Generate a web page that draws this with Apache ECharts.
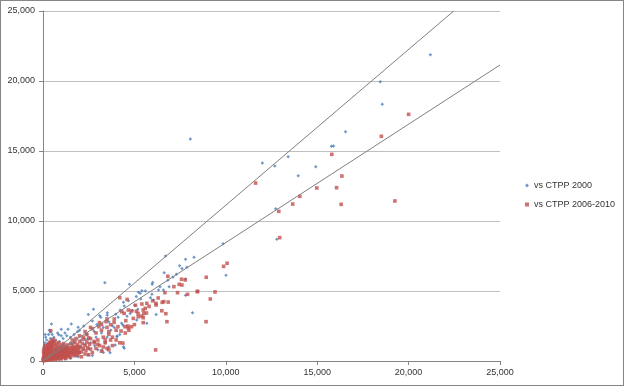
<!DOCTYPE html>
<html><head><meta charset="utf-8">
<script src="https://cdn.jsdelivr.net/npm/echarts@6/dist/echarts.min.js"></script>
<style>html,body{margin:0;padding:0;background:#fff}#c{width:624px;height:386px;box-sizing:border-box;border:1px solid #868686}</style>
</head><body><div id="c"></div>
<script>
// Axis ticks
const xTicks = [0, 5000, 10000, 15000, 20000, 25000];
const yTicks = [0, 5000, 10000, 15000, 20000, 25000];
const seriesNames = ['vs CTPP 2000', 'vs CTPP 2006-2010'];

// Series 1: vs CTPP 2000 (blue)
const ctpp2000 = [
[21190,21870],[18450,19950],[18560,18340],[16550,16380],[15780,15340],[15890,15360],[13410,14590],[12000,14140],[12680,13930],[14920,13880],[13960,13240],[12730,10880],[12790,8690],[8060,15860],
[9850,8380],[8260,7410],[10010,6120],[8180,3450],[6700,7500],[7800,7260],[7470,6810],[7870,6690],[6630,6310],[3380,5590],[4730,5480],[5970,5480],[7110,6000],[7800,5860],[6830,5760],[6320,5070],[6590,5070],
[5220,4910],[5410,5020],[5960,4760],[5880,4520],[4670,4310],[4400,4190],[5350,4430],[5020,3980],[7800,4690],[3980,3340],[3510,3260],[5190,3690],[3800,2520],[3710,2190],[3230,760],[4440,910],
[6050,4360],[6190,3330],[4220,3640],[4370,2570],[3100,3240],[2760,3690],[2480,3330],[3160,3120],[3520,3450],[4440,3930],[4110,3120],[4060,1790],[3950,1140],[3670,590],[2830,1090],[2430,1550],
[2060,1020],[1550,590],[2470,430],[1920,310],[4770,3400],[5320,4840],[5680,2690],[5130,2930],[4400,1020],[4040,1740],
[460,2640],[420,2070],[860,1880],[1000,2260],[1370,2260],[1550,2640],[1920,2410],[2230,2500],[2700,2850],[2950,2600],[3300,2400],[3600,2800],[4300,2700],[4600,3200],[4900,3600],
[100,1300],[200,1500],[150,1700],[300,1900],[80,1100],[250,1200],[400,1600],[50,900],[120,1900],[350,2200],[500,1900],[600,1700],[700,1500],[900,1400],[1100,1600],[1300,1800],[1500,1700],[1700,1900],[1900,2100],[800,2000],[1000,1800],[1200,2000],
[1500,200],[1800,350],[2000,600],[2200,800],[2500,900],[1200,150],[900,100],[2700,400],[3000,800],[3300,600],[1700,1300],[2100,1500],[2400,1900],[2600,1300],[2900,1700],[3200,2000],[3500,1700],[3900,2400],[2000,2200],[1600,1200],[1300,1000],[700,900],[450,1000],[300,700],[600,400],[200,300],
[5600,5000],[6000,5600],[6400,5300],[6900,5300],[7300,6200],[7600,6600],[5100,4600],[4200,1900],[3400,1300],[2800,2100],[1100,500],[800,700],[2300,1200],[3600,1000]
];

// Series 2: vs CTPP 2006-2010 (red)
const ctpp0610 = [
[20000,17620],[18510,16050],[15800,14760],[11630,12710],[16350,13210],[16060,12380],[14980,12360],[14050,11760],[13660,11210],[16310,11190],[19250,11430],[12900,10690],[12950,8810],
[10070,6980],[9880,6760],[8930,5980],[8460,4980],[9410,4930],[9150,4430],[8920,2810],
[6830,6050],[7450,5480],[7580,5840],[7160,5310],[7600,5430],[7780,5790],[7360,4880],[6670,4880],[7910,4760],[8440,4950],[6160,790],[4200,4520],
[3090,2740],[3050,2450],[3450,2810],[2700,2300],[2900,2000],[3200,2200],[3500,2400],[3600,2100],[3800,1700],[4000,1500],[4200,1300],[4370,1280],[3890,2760],[4100,2450],[4270,2140],[4480,2450],[4660,2360],[4840,2450],[4530,2880],[4640,2500],
[4940,3040],[5210,3160],[5400,3210],[5480,3090],[5480,2740],[4310,3520],[4440,3400],[4670,3640],[4840,3570],[5110,3550],[5480,3640],[5520,3400],[5590,3760],[5060,3980],[5410,4070],[5680,4120],[6180,4120],[6520,4190],[6850,4210],[6190,4000],[6610,4240],[5660,3430],[6500,3590],[6720,3380],[6780,2810],
[2400,1900],[2600,1600],[2800,1400],[3000,1200],[3300,1000],[3600,800],[2200,1700],[2000,1800],[1800,1600],[1600,1500],[3400,1500],[3700,2600],[3900,3000],[4000,2200],[4500,2000],[4700,2200],[5000,2600],[5200,3400],[5800,3900],[6000,4300],[6300,4500],[3500,3000],[3200,2600],[2600,2400],[2300,2100],[4600,4400],
[30,40],[60,120],[90,60],[110,200],[140,90],[160,310],[180,150],[200,420],[220,240],[250,90],[260,520],[280,330],[300,170],[310,640],[330,430],[350,260],[370,750],[390,520],[400,120],[420,350],[440,860],[460,620],[480,230],[500,440],[520,980],[540,700],[560,310],[580,540],[600,180],[620,820],[640,410],[660,1100],[680,620],[700,280],[720,900],[740,500],[760,1200],[780,720],[800,360],[820,980],[840,580],[860,1300],[880,800],[900,420],[920,1050],[940,660],[960,240],[980,880],[1000,500],
[1020,1150],[1040,740],[1060,380],[1080,960],[1100,580],[1120,1250],[1140,820],[1160,450],[1180,1050],[1200,650],[1230,300],[1260,900],[1290,520],[1320,1150],[1360,720],[1400,400],[1440,980],[1480,600],[1520,1250],[1560,800],[1600,480],[1650,1050],[1700,700],[1750,1350],[1800,900],[1850,560],[1900,1150],[1950,800],[2000,1400],[2050,1000],[2100,650],[2150,1250],[2200,900],[2250,1550],[2300,1100],[2350,750],[2400,1350],[2450,950],[2500,1650],[2550,1200],[2600,850],
[80,250],[120,380],[170,480],[230,600],[290,720],[350,840],[410,950],[470,1060],[530,1180],[590,1290],[650,1400],[50,300],[100,450],[150,580],[200,700],[250,820],[300,950],[350,1080],[400,1200],[450,1320],[500,1450],[550,1550],[20,200],[40,500],[70,650],[130,800],[190,900],[240,1000],[270,1150],[320,1250],[380,1350],[150,1000],[100,1100],[60,900],[30,700],
[440,200],[520,150],[700,120],[850,200],[1000,150],[1100,250],[1250,180],[1350,320],[1500,260],[1700,380],[1900,420],[2100,300],[2300,500],[2500,450],[2700,600],[2800,1300],[2900,900],[3000,1500],[3100,1100],[3200,700],[3300,1700],[3400,1300],[3500,900],[3600,1900],[3700,1500],[3800,1100],[420,2160],
[10,100],[70,30],[130,160],[190,60],[210,330],[270,200],[340,110],[360,400],[430,280],[490,520],[510,90],[570,620],[610,360],[630,220],[690,760],[710,440],[770,590],[790,160],[830,470],[870,650],[910,290],[950,540],[990,700],[1030,430],[1070,820],[1110,330],[1150,690],[1190,860],[1220,470],[1270,720],[1310,410],[1340,880],[1380,560],[1420,760],[1460,460],[1540,650],[1580,950],[1630,620],[1680,880],[1720,540],[1780,760],[1830,1050],[1880,700],[1930,980],[1980,600]
];

// Reference lines
const upperLine = [[0,0],[22466,25000]];
const lowerLine = [[0,0],[25000,21143]];

const chart = echarts.init(document.getElementById('c'));
const axisLabel = {color:'#333', fontFamily:'Liberation Sans', fontSize:9};
chart.setOption({
  animation:false,
  grid:{left:42, right:123, top:10, bottom:24},
  legend:{
    orient:'vertical', left:519, top:175, itemGap:10, itemWidth:4, itemHeight:4,
    textStyle:{color:'#333', fontFamily:'Liberation Sans', fontSize:9},
    data:[{name:seriesNames[0], icon:'diamond'},{name:seriesNames[1], icon:'rect'}]
  },
  xAxis:{type:'value', min:xTicks[0], max:xTicks[xTicks.length-1], interval:5000,
    axisLine:{show:true, lineStyle:{color:'#868686'}}, axisTick:{show:true, length:4, lineStyle:{color:'#868686'}},
    splitLine:{show:false}, axisLabel:Object.assign({margin:7, formatter:v=>v.toLocaleString('en-US')}, axisLabel)},
  yAxis:{type:'value', min:yTicks[0], max:yTicks[yTicks.length-1], interval:5000,
    axisLine:{show:true, lineStyle:{color:'#868686'}}, axisTick:{show:true, length:4, lineStyle:{color:'#868686'}},
    splitLine:{show:true, lineStyle:{color:'#bfbfbf'}}, axisLabel:Object.assign({margin:8, formatter:v=>v.toLocaleString('en-US')}, axisLabel)},
  series:[
    {name:seriesNames[0], type:'scatter', symbol:'diamond', symbolSize:3.5, data:ctpp2000, itemStyle:{color:'#4a7ebb'}},
    {name:seriesNames[1], type:'scatter', symbol:'rect', symbolSize:3.6, data:ctpp0610, itemStyle:{color:'#c0504d'}},
    {type:'line', data:upperLine, symbol:'none', silent:true, lineStyle:{color:'#7f7f7f', width:1}, z:5},
    {type:'line', data:lowerLine, symbol:'none', silent:true, lineStyle:{color:'#7f7f7f', width:1}, z:5}
  ]
});
</script></body></html>
